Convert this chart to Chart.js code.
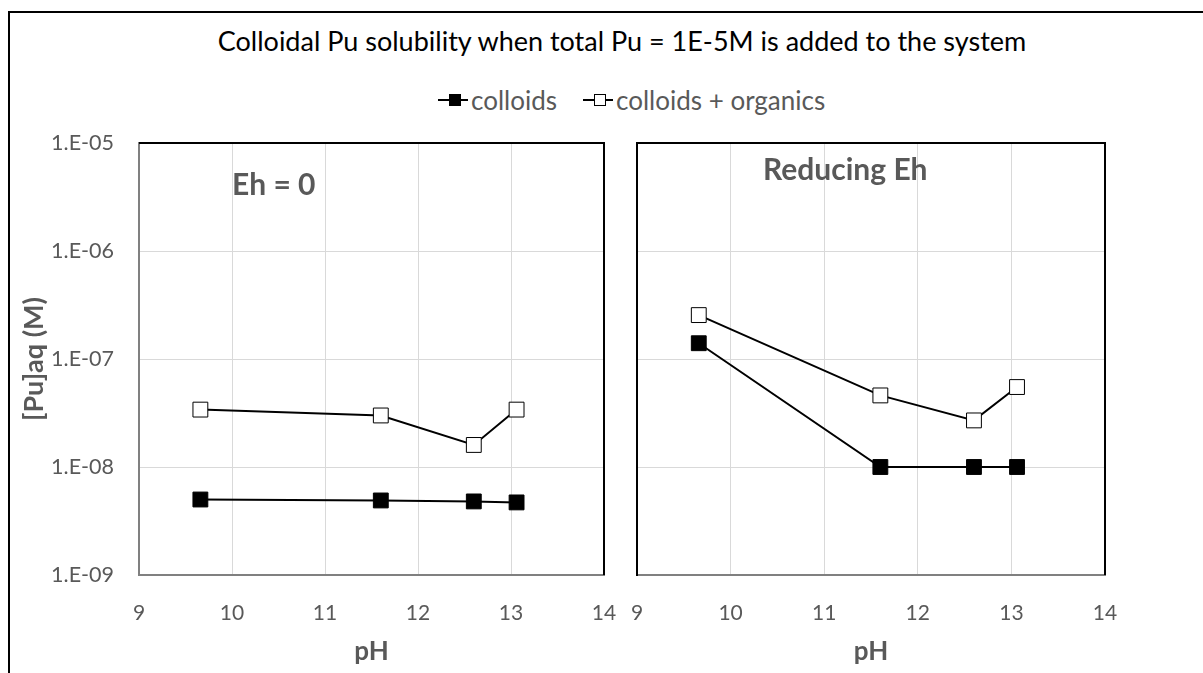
<!DOCTYPE html>
<html>
<head>
<meta charset="utf-8">
<script src="https://cdn.jsdelivr.net/npm/chart.js@4.4.0/dist/chart.umd.min.js"></script>
<style>
  body { margin: 0; width: 1203px; height: 673px; overflow: hidden; background: #fff; position: relative; font-family: Lato, sans-serif; }
  #frame { position: absolute; left: 8px; top: 11px; width: 1300px; height: 800px; border: 2px solid #000; }
  #title { position: absolute; left: 0; width: 1244px; top: 24px; text-align: center; font-size: 27px; color: #000; white-space: nowrap; }
  #legend { position: absolute; left: 438px; top: 84px; display: flex; align-items: center; font-size: 26px; color: #595959; }
  .item { display: flex; align-items: center; margin-right: 26px; }
  .mark { position: relative; width: 30px; height: 12px; margin-right: 3px; }
  .mark .ln { position: absolute; left: 0; right: 0; top: 5px; height: 2px; background: #000; }
  .mark .sq { position: absolute; left: 11px; top: 0; width: 10px; height: 10px; border: 1px solid #000; }
  .panel-label { position: absolute; font-weight: bold; font-size: 30px; color: #595959; white-space: nowrap; }
  canvas { position: absolute; top: 120px; }
</style>
</head>
<body>
<div id="frame"></div>
<div id="title">Colloidal Pu solubility when total Pu = 1E-5M is added to the system</div>
<div id="legend">
  <div class="item"><div class="mark"><div class="ln"></div><div class="sq" style="background:#000"></div></div>colloids</div>
  <div class="item"><div class="mark"><div class="ln"></div><div class="sq" style="background:#fff"></div></div>colloids + organics</div>
</div>
<canvas id="chartLeft" width="620" height="553" style="left:0"></canvas>
<canvas id="chartRight" width="583" height="553" style="left:620px"></canvas>
<div class="panel-label" style="left:232px; top:165px;">Eh = 0</div>
<div class="panel-label" style="left:763px; top:150px;">Reducing Eh</div>
<script>
// valores
const phValues = [9.66, 11.6, 12.6, 13.06];
const ehZeroColloids = [5.0e-9, 4.9e-9, 4.8e-9, 4.7e-9];
const ehZeroOrganics = [3.4e-8, 3.0e-8, 1.6e-8, 3.4e-8];
const reducingColloids = [1.4e-7, 1.0e-8, 1.0e-8, 1.0e-8];
const reducingOrganics = [2.55e-7, 4.6e-8, 2.7e-8, 5.5e-8];
const yTickValues = [1e-9, 1e-8, 1e-7, 1e-6, 1e-5];
const yTickLabels = ['1.E-09', '1.E-08', '1.E-07', '1.E-06', '1.E-05'];
const xMin = 9, xMax = 14;

const gray = '#595959';

// bordes negros arriba y a la derecha del área de trazado
const frameLines = {
    id: 'frameLines',
    beforeDatasetsDraw(chart) {
        const { ctx, chartArea: a } = chart;
        ctx.save();
        ctx.strokeStyle = '#000';
        ctx.lineWidth = 2;
        ctx.beginPath();
        ctx.moveTo(a.left, a.top);
        ctx.lineTo(a.right, a.top);
        ctx.lineTo(a.right, a.bottom);
        ctx.stroke();
        ctx.restore();
    }
};

// sin relleno extra por las etiquetas que sobresalen
function noOverhang(scale) {
    scale.paddingLeft = 0;
    scale.paddingRight = 0;
    scale.paddingTop = 0;
    scale.paddingBottom = 0;
}

function makePanel(id, colloids, organics, showY, padding, yBorder) {
    const ctx = document.getElementById(id).getContext('2d');
    return new Chart(ctx, {
        type: 'line',
        data: {
            datasets: [{
                label: 'colloids',
                data: phValues.map((x, i) => ({ x: x, y: colloids[i] })),
                borderColor: '#000',
                borderWidth: 2,
                pointStyle: 'rect',
                pointRadius: 10.5,
                pointBackgroundColor: '#000',
                pointBorderColor: '#000',
                pointBorderWidth: 1
            }, {
                label: 'colloids + organics',
                data: phValues.map((x, i) => ({ x: x, y: organics[i] })),
                borderColor: '#000',
                borderWidth: 2,
                pointStyle: 'rect',
                pointRadius: 10.5,
                pointBackgroundColor: '#fff',
                pointBorderColor: '#000',
                pointBorderWidth: 1
            }]
        },
        options: {
            responsive: false,
            animation: false,
            devicePixelRatio: 1,
            layout: { padding: padding },
            plugins: {
                legend: { display: false },
                tooltip: { enabled: false }
            },
            scales: {
                x: {
                    type: 'linear',
                    min: xMin,
                    max: xMax,
                    ticks: { stepSize: 1, padding: 26, color: gray, font: { family: 'Lato', size: 21 } },
                    grid: { color: '#d9d9d9', drawTicks: false },
                    border: { color: '#808080', width: 2 },
                    title: { display: true, text: 'pH', color: gray, font: { family: 'Lato', size: 26, weight: 'bold' }, padding: { top: 0, bottom: 6 } },
                    afterFit(scale) { scale.height = 98; noOverhang(scale); }
                },
                y: {
                    type: 'logarithmic',
                    min: yTickValues[0],
                    max: yTickValues[yTickValues.length - 1],
                    afterBuildTicks(scale) { scale.ticks = yTickValues.map(v => ({ value: v })); },
                    ticks: {
                        display: showY,
                        padding: 25,
                        color: gray,
                        font: { family: 'Lato', size: 21.5 },
                        callback: (value, index) => yTickLabels[index]
                    },
                    grid: { color: '#d9d9d9', drawTicks: false },
                    border: { color: yBorder, width: 2 },
                    title: { display: showY, text: '[Pu]aq (M)', color: gray, font: { family: 'Lato', size: 27, weight: 'bold' }, padding: { top: 18, bottom: 0 } },
                    afterFit(scale) { scale.width = showY ? 139 : 17; noOverhang(scale); }
                }
            }
        },
        plugins: [frameLines]
    });
}

makePanel('chartLeft', ehZeroColloids, ehZeroOrganics, true, { top: 23, right: 16, left: 0, bottom: 0 }, '#808080');
makePanel('chartRight', reducingColloids, reducingOrganics, false, { top: 23, right: 98, left: 0, bottom: 0 }, '#000');
</script>
</body>
</html>
